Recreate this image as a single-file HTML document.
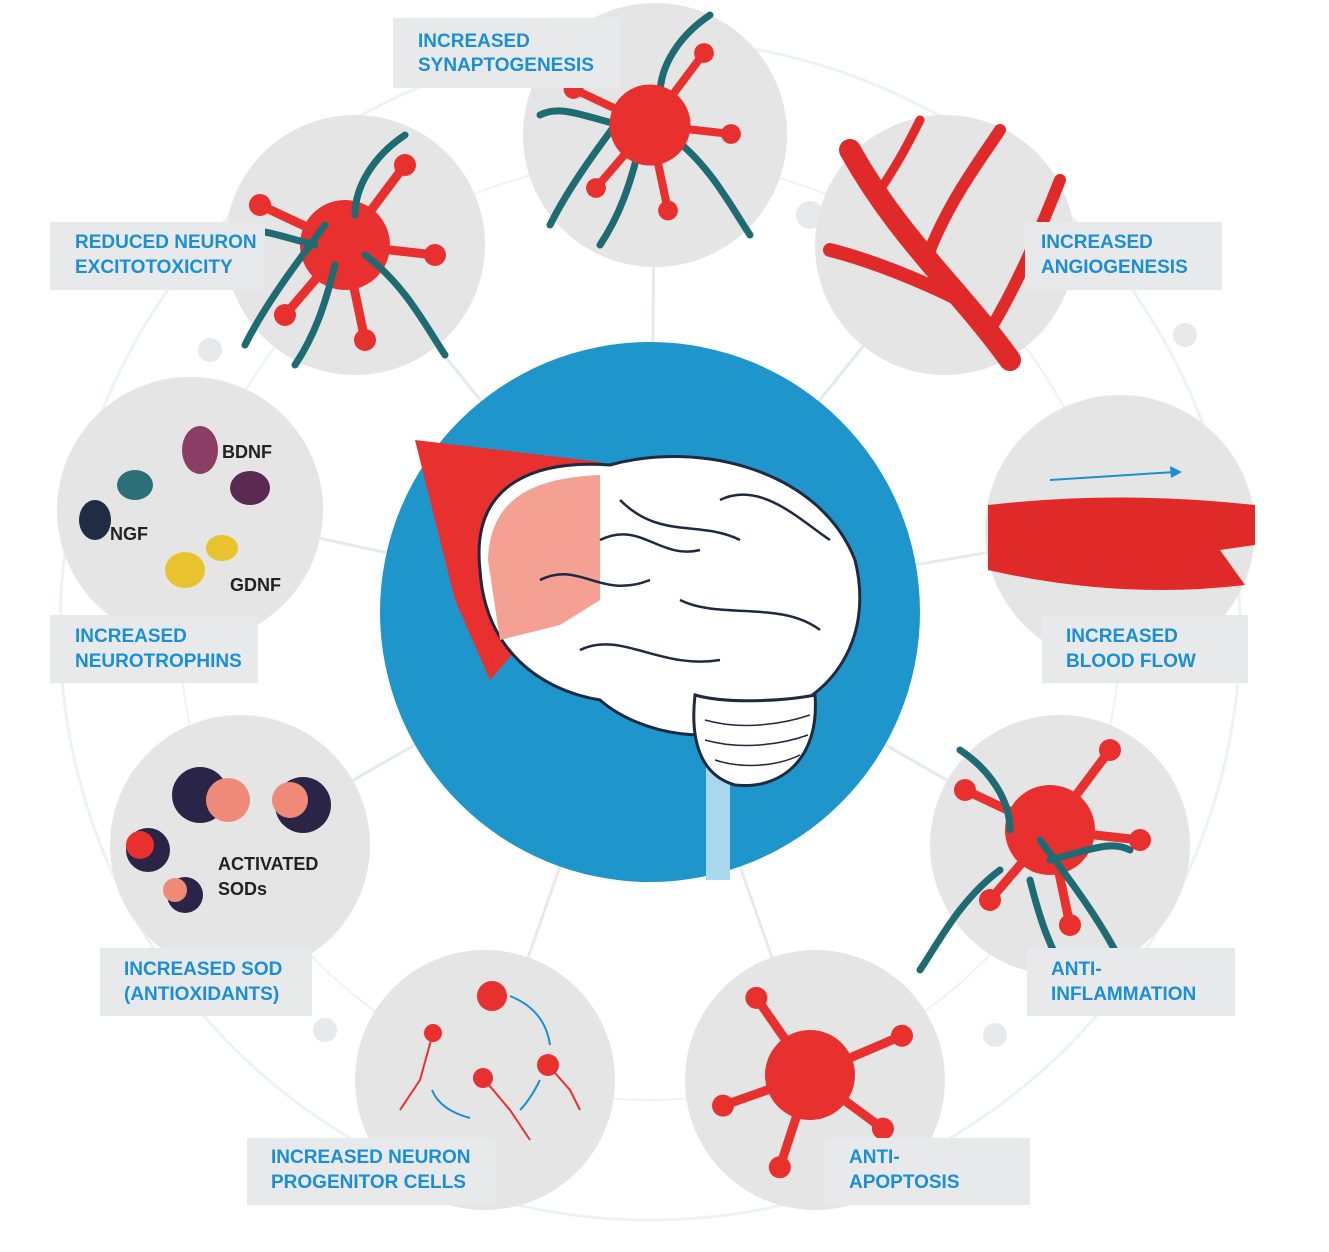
<!DOCTYPE html>
<html><head><meta charset="utf-8"><style>
body{margin:0;background:#fff;}
svg{display:block}
.lbl{font-family:"Liberation Sans",sans-serif;font-weight:bold;font-size:19px;fill:#1b8fd2}
.dk{font-family:"Liberation Sans",sans-serif;font-weight:bold;font-size:18px;fill:#222}
</style></head><body>
<svg width="1329" height="1252" viewBox="0 0 1329 1252" xmlns="http://www.w3.org/2000/svg">
<defs>
<g id="neuron">
 <circle r="45" fill="#e8302f"/>
 <g stroke="#e8302f" stroke-width="9" stroke-linecap="round">
  <line x1="0" y1="0" x2="-85" y2="-40"/><line x1="0" y1="0" x2="60" y2="-80"/>
  <line x1="0" y1="0" x2="90" y2="10"/><line x1="0" y1="0" x2="20" y2="95"/>
  <line x1="0" y1="0" x2="-60" y2="70"/>
 </g>
 <circle cx="-85" cy="-40" r="11" fill="#e8302f"/><circle cx="60" cy="-80" r="11" fill="#e8302f"/>
 <circle cx="90" cy="10" r="11" fill="#e8302f"/><circle cx="20" cy="95" r="11" fill="#e8302f"/>
 <circle cx="-60" cy="70" r="11" fill="#e8302f"/>
</g>
<g id="teal" fill="none" stroke="#1f6b73" stroke-width="7" stroke-linecap="round">
 <path d="M-20 -20 C-50 20 -80 60 -100 100"/><path d="M10 -30 C10 -60 30 -90 60 -110"/>
 <path d="M20 10 C60 40 80 80 100 110"/><path d="M-10 20 C-20 60 -30 90 -50 120"/>
 <path d="M-30 0 C-70 -10 -90 -20 -110 -10"/>
</g>
</defs>
<circle cx="650" cy="630" r="590" fill="none" stroke="#eef2f5" stroke-width="3"/>
<circle cx="650" cy="630" r="470" fill="none" stroke="#eef2f5" stroke-width="2"/>
<g stroke="#e6eaed" stroke-width="3">
<line x1="650" y1="610" x2="655" y2="135"/><line x1="650" y1="610" x2="355" y2="245"/>
<line x1="650" y1="610" x2="945" y2="245"/><line x1="650" y1="610" x2="1120" y2="530"/>
<line x1="650" y1="610" x2="190" y2="510"/><line x1="650" y1="610" x2="1060" y2="845"/>
<line x1="650" y1="610" x2="240" y2="845"/><line x1="650" y1="610" x2="485" y2="1080"/>
<line x1="650" y1="610" x2="815" y2="1080"/>
</g>
<circle cx="210" cy="350" r="12" fill="#e6eaed"/><circle cx="1185" cy="335" r="12" fill="#e6eaed"/>
<circle cx="995" cy="1035" r="12" fill="#e6eaed"/><circle cx="325" cy="1030" r="12" fill="#e6eaed"/>
<circle cx="810" cy="215" r="14" fill="#e6eaed"/>
<g fill="#e5e5e6">
<circle cx="655" cy="135" r="132"/><circle cx="355" cy="245" r="130"/>
<circle cx="945" cy="245" r="130"/><circle cx="1120" cy="530" r="135"/>
<circle cx="190" cy="510" r="133"/><circle cx="1060" cy="845" r="130"/>
<circle cx="240" cy="845" r="130"/><circle cx="485" cy="1080" r="130"/>
<circle cx="815" cy="1080" r="130"/>
</g>
<g transform="translate(650,125)"><use href="#teal"/><use href="#neuron" transform="scale(0.9)"/></g>
<g transform="translate(345,245)"><use href="#neuron"/><use href="#teal"/></g>
<g fill="none" stroke="#e02a2a" stroke-linecap="round">
<path d="M1010 360 C960 290 900 240 850 150" stroke-width="22"/>
<path d="M960 300 C920 280 870 260 830 250" stroke-width="14"/>
<path d="M930 250 C950 200 980 160 1000 130" stroke-width="12"/>
<path d="M990 330 C1020 280 1040 230 1060 180" stroke-width="12"/>
<path d="M880 190 C900 160 910 140 920 120" stroke-width="9"/>
</g>
<path d="M988 505 Q1120 490 1255 505 L1255 545 L1220 550 L1245 585 Q1120 600 988 570 Z" fill="#e02a2a"/>
<line x1="1050" y1="480" x2="1175" y2="472" stroke="#1b8fd2" stroke-width="2"/>
<polygon points="1182,472 1170,466 1171,478" fill="#1b8fd2"/>
<g><ellipse cx="200" cy="450" rx="18" ry="24" fill="#8c3d66"/><ellipse cx="250" cy="488" rx="20" ry="17" fill="#5a2a52"/>
<ellipse cx="135" cy="485" rx="18" ry="15" fill="#2b6f77"/><ellipse cx="95" cy="520" rx="16" ry="20" fill="#1f2d44"/>
<ellipse cx="185" cy="570" rx="20" ry="18" fill="#e8c32d"/><ellipse cx="222" cy="548" rx="16" ry="13" fill="#e8c32d"/>
<text class="dk" x="222" y="458">BDNF</text><text class="dk" x="110" y="540">NGF</text><text class="dk" x="230" y="591">GDNF</text></g>
<g><circle cx="200" cy="795" r="28" fill="#2a2547"/><circle cx="228" cy="800" r="22" fill="#f08a78"/>
<circle cx="303" cy="805" r="28" fill="#2a2547"/><circle cx="290" cy="800" r="18" fill="#f08a78"/>
<circle cx="148" cy="850" r="22" fill="#2a2547"/><circle cx="140" cy="845" r="14" fill="#e8302f"/>
<circle cx="185" cy="895" r="18" fill="#2a2547"/><circle cx="175" cy="890" r="12" fill="#f08a78"/>
<text class="dk" x="218" y="870">ACTIVATED</text><text class="dk" x="218" y="895">SODs</text></g>
<g fill="#e8302f"><circle cx="492" cy="996" r="15"/><circle cx="548" cy="1065" r="11"/><circle cx="483" cy="1078" r="10"/><circle cx="433" cy="1033" r="9"/></g>
<g fill="none" stroke="#e8302f" stroke-width="2"><path d="M433 1033 L420 1080 L400 1110"/><path d="M548 1065 L570 1090 L580 1110"/><path d="M483 1078 L510 1110 L530 1140"/></g>
<g fill="none" stroke="#1b8fd2" stroke-width="2"><path d="M510 996 Q545 1010 550 1045"/><path d="M540 1080 Q530 1100 520 1110"/><path d="M470 1118 Q440 1110 432 1090"/></g>
<g transform="translate(1050,830)"><use href="#neuron"/><g transform="scale(-1,1) translate(30,30)"><use href="#teal"/></g></g>
<g transform="translate(810,1075)"><use href="#neuron" transform="rotate(30)"/></g>
<circle cx="650" cy="612" r="270" fill="#1e96cc"/>
<path d="M415 440 L600 462 L560 600 L490 680 L455 600 Z" fill="#e8302f"/>
<rect x="706" y="700" width="24" height="180" fill="#a9d8ee"/>
<path d="M480 570 C470 480 540 460 610 465 C700 440 820 470 855 560 C875 640 830 700 770 715 C720 750 640 735 600 700 C540 690 485 650 480 570 Z" fill="#fff" stroke="#1d2a40" stroke-width="3"/>
<path d="M488 560 C490 500 530 478 600 475 L600 600 L560 625 L500 640 Z" fill="#f4a093"/>
<path d="M695 695 C730 705 790 700 815 695 C820 760 780 790 735 785 C700 775 690 740 695 695 Z" fill="#fff" stroke="#1d2a40" stroke-width="3"/>
<g fill="none" stroke="#1d2a40" stroke-width="1.5"><path d="M705 720 C740 730 780 725 810 715"/><path d="M705 740 C740 750 780 745 808 735"/><path d="M715 760 C745 770 780 765 800 755"/></g>
<g fill="none" stroke="#1d2a40" stroke-width="2.5"><path d="M540 580 C580 560 600 600 650 580"/><path d="M620 500 C660 540 700 520 740 540"/><path d="M680 600 C720 620 780 600 820 630"/><path d="M580 650 C620 630 660 670 720 660"/><path d="M600 540 C640 520 660 560 700 550"/><path d="M720 500 C760 480 800 520 830 540"/></g>
<g fill="#e8e9ea">
<rect x="393" y="18" width="227" height="70"/><rect x="50" y="222" width="215" height="68"/>
<rect x="1025" y="222" width="197" height="68"/><rect x="50" y="615" width="208" height="68"/>
<rect x="1042" y="615" width="206" height="68"/><rect x="100" y="948" width="212" height="68"/>
<rect x="1027" y="948" width="208" height="68"/><rect x="247" y="1138" width="248" height="67"/>
<rect x="825" y="1138" width="205" height="67"/>
</g>
<text class="lbl" x="418" y="47">INCREASED</text><text class="lbl" x="418" y="71">SYNAPTOGENESIS</text>
<text class="lbl" x="75" y="248">REDUCED NEURON</text><text class="lbl" x="75" y="273">EXCITOTOXICITY</text>
<text class="lbl" x="1041" y="248">INCREASED</text><text class="lbl" x="1041" y="273">ANGIOGENESIS</text>
<text class="lbl" x="75" y="642">INCREASED</text><text class="lbl" x="75" y="667">NEUROTROPHINS</text>
<text class="lbl" x="1066" y="642">INCREASED</text><text class="lbl" x="1066" y="667">BLOOD FLOW</text>
<text class="lbl" x="124" y="975">INCREASED SOD</text><text class="lbl" x="124" y="1000">(ANTIOXIDANTS)</text>
<text class="lbl" x="1051" y="975">ANTI-</text><text class="lbl" x="1051" y="1000">INFLAMMATION</text>
<text class="lbl" x="271" y="1163">INCREASED NEURON</text><text class="lbl" x="271" y="1188">PROGENITOR CELLS</text>
<text class="lbl" x="849" y="1163">ANTI-</text><text class="lbl" x="849" y="1188">APOPTOSIS</text>
</svg>
</body></html>
